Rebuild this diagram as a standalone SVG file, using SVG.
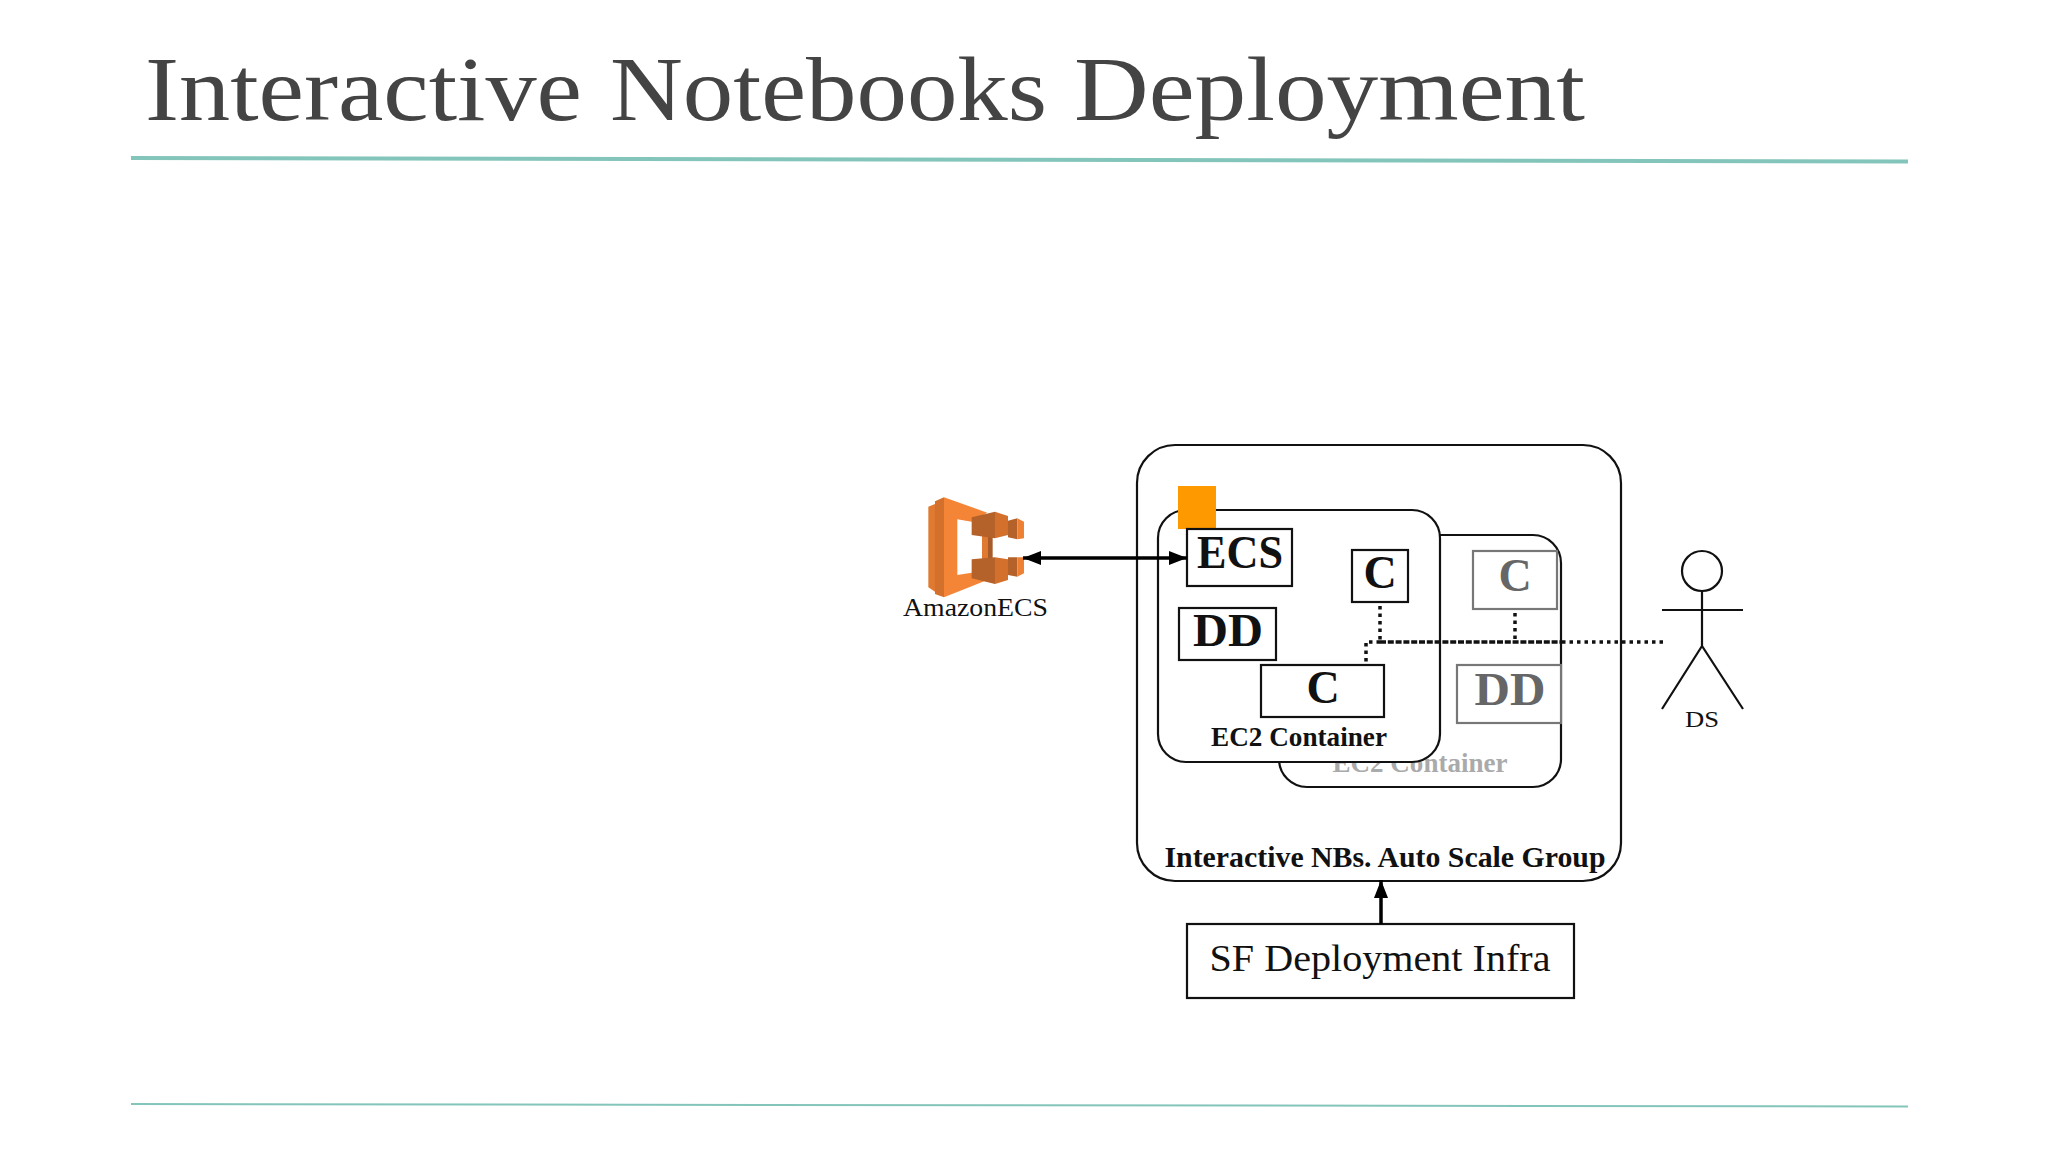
<svg xmlns="http://www.w3.org/2000/svg" width="2048" height="1152" viewBox="0 0 2048 1152">
<style>
text{font-family:"Liberation Serif","Times New Roman",serif;fill:#111;text-anchor:middle}
.b{font-weight:700}
.box{fill:#fff;stroke:#111;stroke-width:2.2}
.gbox{fill:#fff;stroke:#777;stroke-width:2.2}
.ln{fill:none;stroke:#111;stroke-width:2.2}
.cn{fill:none;stroke:#000;stroke-width:3.500}
.dot{fill:none;stroke:#111;stroke-width:3.500;stroke-dasharray:3.500 4}
.dense{fill:none;stroke:#111;stroke-width:3.500;stroke-dasharray:6 1.800}
.big{font-size:46px;font-weight:700}
.gt{fill:#666}
</style>
<defs>
<marker id="ah" viewBox="0 0 18 14" refX="18" refY="7" markerWidth="18" markerHeight="14" markerUnits="userSpaceOnUse" orient="auto-start-reverse"><path d="M0 0L18 7L0 14z" fill="#000"/></marker>
</defs>
<rect width="2048" height="1152" fill="#fff"/>
<g id="title">
<text y="120" font-size="92" style="fill:#444;text-anchor:start"><tspan x="145" textLength="437" lengthAdjust="spacingAndGlyphs">Interactive</tspan> <tspan x="610" textLength="437" lengthAdjust="spacingAndGlyphs">Notebooks</tspan> <tspan x="1074" textLength="511" lengthAdjust="spacingAndGlyphs">Deployment</tspan></text>
<path d="M131 158L1908 161.500" stroke="#84c5bb" stroke-width="4" fill="none"/>
<path d="M131 1104L1908 1106.500" stroke="#84c5bb" stroke-width="2" fill="none"/>
</g>
<g id="asg">
<rect class="ln" x="1137" y="445" width="484" height="436" rx="38"/>
<text class="b" x="1385" y="867" font-size="29" textLength="441" lengthAdjust="spacingAndGlyphs">Interactive NBs. Auto Scale Group</text>
</g>
<g id="container-back">
<rect class="ln" x="1279" y="535" width="282" height="252" rx="28"/>
<text x="1420" y="772" font-size="27" class="b" style="fill:#aaa" textLength="175" lengthAdjust="spacingAndGlyphs">EC2 Container</text>
</g>
<g id="c-back"><rect class="gbox" x="1473" y="551" width="84" height="58"/><text class="big gt" x="1515" y="591">C</text></g>
<g id="dd-back"><rect class="gbox" x="1457" y="665" width="104" height="58"/><text class="big gt" x="1510" y="705" textLength="71" lengthAdjust="spacingAndGlyphs">DD</text></g>
<g id="container-front">
<rect class="ln" style="fill:#fff" x="1158" y="510" width="282" height="252" rx="28"/>
<text x="1299" y="746" font-size="27" class="b" textLength="176" lengthAdjust="spacingAndGlyphs">EC2 Container</text>
</g>
<g id="orange"><rect x="1178" y="486" width="38" height="43" fill="#ff9900"/></g>
<g id="ecs"><rect class="box" x="1187" y="529" width="105" height="57"/><text class="big" x="1240" y="568" textLength="86" lengthAdjust="spacingAndGlyphs">ECS</text></g>
<g id="dd"><rect class="box" x="1179" y="608" width="97" height="52"/><text class="big" x="1228" y="646" textLength="70" lengthAdjust="spacingAndGlyphs">DD</text></g>
<g id="c-lower"><rect class="box" x="1261" y="665" width="123" height="52"/><text class="big" x="1323" y="703">C</text></g>
<g id="c-upper"><rect class="box" x="1352" y="550" width="56" height="52"/><text class="big" x="1380" y="588">C</text></g>
<g id="amazon-ecs">
<g transform="translate(900 480) scale(.3333)">
<path d="M85 80L105 72V335L85 322z" fill="#e07a30"/>
<path d="M105 64L132 52V352L105 342z" fill="#d2702c"/>
<path d="M132 52L262 98L215 125L172 118V285L215 278L262 300L132 352z" fill="#f58536"/>
<path d="M246 165H262V240H246z" fill="#e07a30"/>
<path d="M262 165H278V240H262z" fill="#a85a28"/>
<path d="M215 112L285 95V175L215 165z" fill="#b5622a"/>
<path d="M285 95L324 108V165L285 175z" fill="#d2702c"/>
<path d="M324 122L352 115V178L324 172z" fill="#b5622a"/>
<path d="M352 115L372 125V175L352 178z" fill="#ee8033"/>
<path d="M215 238L285 232V312L215 295z" fill="#b5622a"/>
<path d="M285 232L324 238V300L285 312z" fill="#d2702c"/>
<path d="M324 232L352 232V290L324 285z" fill="#b5622a"/>
<path d="M352 232L372 232V280L352 290z" fill="#ee8033"/>
</g>
<text x="975.500" y="616" font-size="25" textLength="145" lengthAdjust="spacingAndGlyphs">AmazonECS</text>
</g>
<g id="ds">
<circle class="ln" cx="1702" cy="571" r="20"/>
<path class="ln" d="M1702 591V646M1662 610H1743M1662 709L1702 646L1743 709"/>
<text x="1702" y="727" font-size="24" textLength="34" lengthAdjust="spacingAndGlyphs">DS</text>
</g>
<g id="sf-infra"><rect class="box" x="1187" y="924" width="387" height="74"/><text x="1380" y="971" font-size="37" textLength="341" lengthAdjust="spacingAndGlyphs">SF Deployment Infra</text></g>
<g id="connectors">
<path class="cn" d="M1023 558H1187" marker-start="url(#ah)" marker-end="url(#ah)"/>
<path class="cn" d="M1381 924V880" marker-end="url(#ah)"/>
<path class="dot" d="M1663 642H1560"/>
<path class="dot" d="M1380 642H1366V665"/>
<path class="dense" d="M1380 642H1560"/>
<path class="dot" d="M1380 606V642"/>
<path class="dot" d="M1515 613V642"/>
</g>
</svg>
